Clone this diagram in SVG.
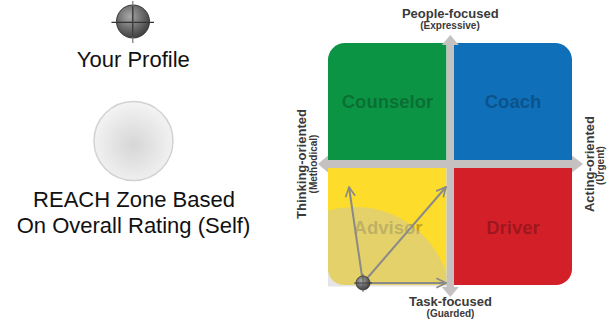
<svg xmlns="http://www.w3.org/2000/svg" width="616" height="322" viewBox="0 0 616 322">
<defs>
<style>
.lbl{font-family:"Liberation Sans",Arial,sans-serif;fill:#111;font-size:22px;text-anchor:middle}
.ax{font-family:"Liberation Sans",Arial,sans-serif;fill:#3a3a3a;font-weight:bold;text-anchor:middle}
.ax13{font-size:13px}
.ax10{font-size:10px}
.q{font-family:"Liberation Sans",Arial,sans-serif;font-weight:bold;font-size:18.5px;text-anchor:middle;fill:#000;fill-opacity:0.27}
.axis{fill:#c5c1c1}
.vec{stroke:#8a8a8a;stroke-width:2;fill:none;marker-end:url(#chev)}
</style>
<marker id="chev" viewBox="0 0 10 10" refX="9" refY="5" markerWidth="6" markerHeight="6" orient="auto" markerUnits="strokeWidth">
<path d="M1,1 L9,5 L1,9" fill="none" stroke="#8a8a8a" stroke-width="1.4"/>
</marker>
<radialGradient id="ball" cx="0.4" cy="0.35" r="0.7">
<stop offset="0" stop-color="#a8a8a8"/>
<stop offset="0.7" stop-color="#5a5a5a"/>
<stop offset="1" stop-color="#3a3a3a"/>
</radialGradient>
<radialGradient id="zoneg" cx="0.5" cy="0.55" r="0.55">
<stop offset="0" stop-color="#d6d6d6"/>
<stop offset="1" stop-color="#f4f4f4"/>
</radialGradient>
<clipPath id="qclip"><rect x="328" y="168" width="118.5" height="118.5"/></clipPath>
</defs>

<g id="legend-profile">
<circle cx="133" cy="21.5" r="16.5" fill="url(#ball)" stroke="#333" stroke-width="1"/>
<line x1="111.5" y1="22.3" x2="154" y2="22.3" stroke="#333" stroke-width="1.2"/>
<line x1="132.8" y1="1" x2="132.8" y2="43" stroke="#777" stroke-width="1.2"/>
<line x1="132.8" y1="6" x2="132.8" y2="37" stroke="#333" stroke-width="1.2"/>
<text class="lbl" x="133.3" y="66.5">Your Profile</text>
</g>

<g id="legend-zone">
<circle cx="133.5" cy="141" r="39.5" fill="url(#zoneg)" stroke="#d2d2d2" stroke-width="1.5"/>
<text class="lbl" x="134" y="206.7">REACH Zone Based</text>
<text class="lbl" x="133.5" y="233">On Overall Rating (Self)</text>
</g>

<g id="counselor">
<path d="M328,160 V60 A17,17 0 0 1 345,43 H446.5 V160 Z" fill="#0c9445"/>
<text class="q" x="387.5" y="108">Counselor</text>
</g>
<g id="coach">
<path d="M454,160 V43 H555 A17,17 0 0 1 572,60 V160 Z" fill="#0f6fb8"/>
<text class="q" x="513" y="108">Coach</text>
</g>
<g id="advisor">
<path d="M328,168 H446.5 V285 H344 A16,16 0 0 1 328,269 Z" fill="#fddc2c"/>
<text class="q" x="388" y="233.5">Advisor</text>
</g>
<g id="driver">
<path d="M454,168 H572 V269 A16,16 0 0 1 556,285 H454 Z" fill="#d31f28"/>
<text class="q" x="513" y="233.5">Driver</text>
</g>

<g id="reach-zone">
<circle cx="355" cy="303" r="96" fill="#c0c0c0" fill-opacity="0.42" clip-path="url(#qclip)"/>
</g>

<g id="axes">
<rect class="axis" x="328" y="160" width="244" height="8"/>
<rect class="axis" x="446.5" y="44" width="7.5" height="244"/>
<path class="axis" d="M318,164 L328,155.5 L328,172.5 Z"/>
<path class="axis" d="M583,164 L572,155.5 L572,172.5 Z"/>
<path class="axis" d="M450.3,35 L441.8,45 L458.8,45 Z"/>
<path class="axis" d="M450.3,297 L441.8,287 L458.8,287 Z"/>
<text class="ax ax13" x="450.3" y="17.5">People-focused</text>
<text class="ax ax10" x="450" y="29">(Expressive)</text>
<text class="ax ax13" x="450.5" y="305.5">Task-focused</text>
<text class="ax ax10" x="450.5" y="317">(Guarded)</text>
<text class="ax ax13" transform="translate(306,164) rotate(-90)">Thinking-oriented</text>
<text class="ax ax10" transform="translate(316.5,164) rotate(-90)">(Methodical)</text>
<text class="ax ax13" transform="translate(594,164) rotate(-90)">Acting-oriented</text>
<text class="ax ax10" transform="translate(604,165.5) rotate(-90)">(Urgent)</text>
</g>

<g id="connectors">
<line class="vec" x1="363" y1="283" x2="349" y2="187"/>
<line class="vec" x1="363" y1="283" x2="446" y2="187"/>
<line class="vec" x1="363" y1="283" x2="446" y2="283"/>
</g>

<g id="profile">
<circle cx="363" cy="283" r="7" fill="url(#ball)" stroke="#333" stroke-width="0.8"/>
<line x1="354" y1="283" x2="372" y2="283" stroke="#333" stroke-width="0.9"/>
<line x1="363" y1="274" x2="363" y2="292" stroke="#555" stroke-width="0.9"/>
</g>
</svg>
